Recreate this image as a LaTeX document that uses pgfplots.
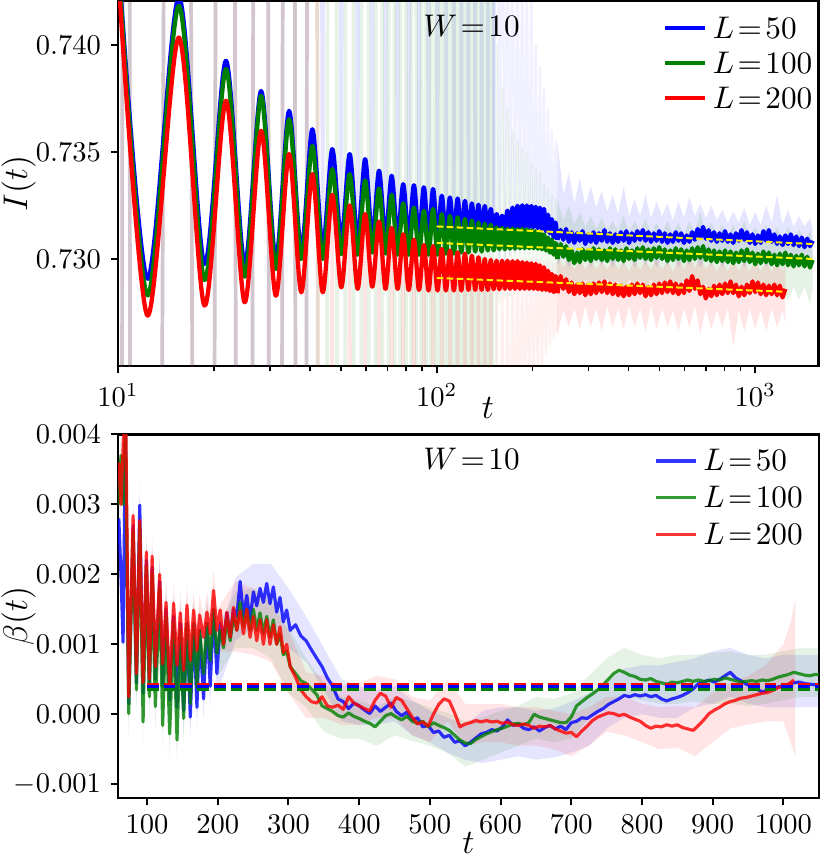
\documentclass[border=0pt]{standalone}
\usepackage{pgfplots}
\pgfplotsset{compat=1.18}
\usepackage{pgfplotstable}
\usepgfplotslibrary{fillbetween}
\definecolor{cB}{rgb}{0,0,1}
\definecolor{cG}{rgb}{0,0.502,0}
\definecolor{cR}{rgb}{1,0,0}

% ---------- top panel: early oscillating part ----------
\pgfplotstableread{
t b g r
10.0 0.7442 0.7440 0.7434
12.35 0.72907 0.72829 0.72735
15.5 0.74225 0.74184 0.74036
18.65 0.72977 0.72902 0.72782
21.8 0.73927 0.73888 0.73740
24.95 0.72977 0.72917 0.72797
28.1 0.73786 0.73763 0.73600
31.25 0.73000 0.72953 0.72828
34.4 0.73693 0.73654 0.73491
37.55 0.73039 0.73000 0.72844
40.7 0.73607 0.73529 0.73397
43.85 0.73054 0.73000 0.72844
47.0 0.73514 0.73420 0.73300
50.15 0.73086 0.73023 0.72867
53.3 0.73491 0.73397 0.73250
56.45 0.73090 0.73020 0.72860
59.6 0.73467 0.73367 0.73210
62.75 0.73095 0.73030 0.72870
65.9 0.73413 0.73330 0.73175
69.05 0.73100 0.73025 0.72860
72.2 0.73389 0.73300 0.73145
75.35 0.73100 0.73020 0.72860
78.5 0.73350 0.73260 0.73115
81.65 0.73100 0.73020 0.72855
84.8 0.73345 0.73240 0.73090
87.95 0.73100 0.73020 0.72855
91.1 0.73335 0.73226 0.73065
94.25 0.73105 0.73020 0.72852
97.4 0.73327 0.73234 0.73060
100.55 0.73105 0.73020 0.72852
103.7 0.73296 0.73210 0.73047
106.85 0.73110 0.73025 0.72852
110.0 0.73288 0.73202 0.73040
113.15 0.73110 0.73025 0.72852
116.3 0.73283 0.73195 0.73031
119.45 0.73115 0.73030 0.72852
122.6 0.73272 0.73187 0.73025
125.75 0.73115 0.73030 0.72855
128.9 0.73260 0.73180 0.73015
132.05 0.73120 0.73035 0.72855
135.2 0.73254 0.73171 0.73008
138.35 0.73120 0.73035 0.72855
141.5 0.73248 0.73165 0.73000
144.65 0.73125 0.73040 0.72855
147.8 0.73234 0.73160 0.72995
150.95 0.73130 0.73040 0.72858
154.1 0.73210 0.73148 0.72992
157.25 0.73135 0.73045 0.72858
160.4 0.73202 0.73145 0.72992
163.55 0.73140 0.73045 0.72860
166.7 0.73226 0.73142 0.72992
169.85 0.73145 0.73048 0.72860
173.0 0.73240 0.73142 0.72990
176.15 0.73148 0.73048 0.72860
179.3 0.73249 0.73140 0.72990
182.45 0.73150 0.73050 0.72860
185.6 0.73251 0.73140 0.72985
188.75 0.73150 0.73050 0.72860
191.9 0.73250 0.73138 0.72983
195.05 0.73150 0.73050 0.72860
198.2 0.73248 0.73135 0.72980
201.35 0.73148 0.73050 0.72860
204.5 0.73244 0.73130 0.72977
207.65 0.73145 0.73048 0.72858
210.8 0.73240 0.73125 0.72970
213.95 0.73140 0.73045 0.72855
217.1 0.73234 0.73115 0.72961
220.25 0.73130 0.73040 0.72855
223.4 0.73207 0.73100 0.72945
226.55 0.73120 0.73030 0.72850
229.7 0.73186 0.73090 0.72930
232.85 0.73100 0.73020 0.72845
236.0 0.73170 0.73075 0.72920
239.15 0.73090 0.73000 0.72840
}\topA

% ---------- top panel: noisy late part ----------
\pgfplotstableread{
t b g r
239.15 0.73090 0.73000 0.72840
244.8 0.73135 0.73070 0.72920
249.7 0.73090 0.73010 0.72860
254.7 0.73140 0.73060 0.72905
259.8 0.73080 0.72995 0.72845
265.0 0.73125 0.73040 0.72890
270.3 0.73075 0.72980 0.72835
275.7 0.73120 0.73030 0.72880
281.2 0.73085 0.72985 0.72840
286.8 0.73130 0.73045 0.72885
292.6 0.73070 0.72995 0.72830
298.4 0.73115 0.73040 0.72880
304.4 0.73080 0.72990 0.72835
310.5 0.73125 0.73050 0.72885
316.7 0.73075 0.73000 0.72840
323.0 0.73120 0.73045 0.72890
329.5 0.73085 0.72995 0.72845
336.1 0.73135 0.73040 0.72895
342.8 0.73080 0.72990 0.72840
349.6 0.73120 0.73050 0.72885
356.6 0.73075 0.73000 0.72835
363.8 0.73115 0.73045 0.72880
371.0 0.73080 0.72995 0.72830
378.5 0.73125 0.73040 0.72875
386.0 0.73085 0.72990 0.72825
393.8 0.73130 0.73050 0.72870
401.6 0.73075 0.73000 0.72830
409.7 0.73120 0.73040 0.72880
417.9 0.73085 0.72995 0.72835
426.2 0.73130 0.73050 0.72885
434.8 0.73090 0.73005 0.72840
443.4 0.73135 0.73055 0.72880
452.3 0.73085 0.73000 0.72825
461.4 0.73125 0.73045 0.72870
470.6 0.73080 0.72995 0.72830
480.0 0.73120 0.73050 0.72880
489.6 0.73085 0.73005 0.72835
499.4 0.73130 0.73055 0.72885
509.4 0.73080 0.73000 0.72840
519.6 0.73120 0.73045 0.72890
530.0 0.73075 0.72990 0.72845
540.6 0.73115 0.73040 0.72895
551.4 0.73080 0.72995 0.72840
562.4 0.73125 0.73050 0.72885
573.7 0.73085 0.73000 0.72835
585.2 0.73120 0.73045 0.72880
596.9 0.73075 0.72990 0.72840
608.8 0.73110 0.73040 0.72900
621.0 0.73080 0.72995 0.72850
633.4 0.73125 0.73050 0.72920
646.1 0.73090 0.73000 0.72860
659.0 0.73140 0.73055 0.72900
672.2 0.73100 0.73005 0.72835
685.6 0.73150 0.73060 0.72870
699.3 0.73095 0.72995 0.72815
713.3 0.73135 0.73045 0.72860
727.6 0.73085 0.72990 0.72825
742.2 0.73125 0.73040 0.72875
757.0 0.73080 0.72985 0.72830
772.2 0.73120 0.73035 0.72880
787.6 0.73085 0.72990 0.72835
803.3 0.73130 0.73040 0.72885
819.4 0.73080 0.72985 0.72840
835.8 0.73115 0.73035 0.72895
852.5 0.73075 0.72980 0.72840
869.6 0.73120 0.73030 0.72880
887.0 0.73085 0.72985 0.72825
904.7 0.73135 0.73040 0.72870
922.8 0.73090 0.72990 0.72830
941.3 0.73125 0.73045 0.72880
960.1 0.73075 0.72985 0.72840
979.3 0.73115 0.73030 0.72895
998.9 0.73070 0.72975 0.72845
1018.9 0.73110 0.73025 0.72890
1039.2 0.73075 0.72980 0.72835
1060.0 0.73130 0.73035 0.72880
1081.2 0.73085 0.72985 0.72830
1102.8 0.73135 0.73030 0.72875
1124.9 0.73080 0.72975 0.72835
1147.4 0.73115 0.73020 0.72880
1170.3 0.73070 0.72970 0.72830
1193.7 0.73105 0.73025 0.72875
1217.6 0.73065 0.72975 0.72820
1242.0 0.73110 0.73030 0.72860
1266.8 0.73070 0.72970 nan
1292.2 0.73115 0.73020 nan
1318.0 0.73065 0.72965 nan
1344.4 0.73105 0.73015 nan
1371.2 0.73060 0.72970 nan
1398.7 0.73100 0.73020 nan
1426.7 0.73055 0.72965 nan
1455.2 0.73095 0.73010 nan
1484.3 0.73060 0.72960 nan
1514.0 0.73085 0.72995 nan
}\topB

% ---------- top panel: wild early error band (stripes), t <= 151 ----------
\pgfplotstableread{
t sb sg sr
10.0 0.55 0.55 0.55
10.62 0.92 0.92 0.92
11.15 0.55 0.55 0.55
12.35 0.55 0.55 0.55
15.5 0.92 0.92 0.92
18.65 0.55 0.55 0.55
21.8 0.92 0.92 0.92
24.95 0.55 0.55 0.55
28.1 0.92 0.92 0.92
31.25 0.55 0.55 0.55
34.4 0.92 0.92 0.92
37.55 0.55 0.55 0.55
40.7 0.92 0.92 0.92
43.85 0.7305 0.55 0.55
47.0 0.92 0.92 0.7320
50.15 0.7308 0.55 0.55
53.3 0.92 0.92 0.7315
56.45 0.7309 0.55 0.55
59.6 0.92 0.92 0.7312
62.75 0.7309 0.55 0.55
65.9 0.92 0.92 0.7310
69.05 0.7310 0.55 0.55
72.2 0.92 0.92 0.7308
75.35 0.7310 0.55 0.55
78.5 0.92 0.92 0.7306
81.65 0.7310 0.55 0.55
84.8 0.92 0.92 0.7305
87.95 0.7310 0.55 0.55
91.1 0.92 0.92 0.7304
94.25 0.7311 0.55 0.55
97.4 0.92 0.92 0.7303
100.55 0.7311 0.55 0.55
103.7 0.92 0.92 0.7303
106.85 0.7311 0.55 0.55
110.0 0.92 0.92 0.7302
113.15 0.7311 0.55 0.55
116.3 0.92 0.92 0.7302
119.45 0.7312 0.55 0.55
122.6 0.92 0.92 0.7302
125.75 0.7312 0.55 0.55
128.9 0.92 0.92 0.7301
132.05 0.7312 0.55 0.55
135.2 0.92 0.92 0.7301
138.35 0.7312 0.55 0.55
141.5 0.92 0.92 0.7300
144.65 0.7313 0.55 0.55
147.8 0.92 0.92 0.7300
150.95 0.7313 0.55 0.55
}\topS

% ---------- top panel: fading error band stripes, 151 < t < 240 ----------
\pgfplotstableread{
t sb sg sr
150.95 0.7313 0.55 0.55
154.1 0.760 0.740 0.7300
157.25 0.7300 0.7280 0.710
160.4 0.752 0.738 0.7300
163.55 0.7300 0.7282 0.716
166.7 0.748 0.737 0.7300
169.85 0.7302 0.7283 0.719
173.0 0.746 0.736 0.7300
176.15 0.7303 0.7284 0.721
179.3 0.745 0.7355 0.7300
182.45 0.7304 0.7285 0.722
185.6 0.745 0.7352 0.7300
188.75 0.7304 0.7285 0.723
191.9 0.744 0.7350 0.7300
195.05 0.7305 0.7286 0.7235
198.2 0.742 0.7345 0.7300
201.35 0.7305 0.7286 0.7240
204.5 0.740 0.7342 0.7300
207.65 0.7305 0.7287 0.7245
210.8 0.739 0.7340 0.7300
213.95 0.7305 0.7287 0.7250
217.1 0.738 0.7335 0.7299
220.25 0.7304 0.7287 0.7255
223.4 0.737 0.7332 0.7299
226.55 0.7303 0.7287 0.7260
229.7 0.736 0.7330 0.7298
232.85 0.7302 0.7287 0.7263
236.0 0.7355 0.7328 0.7298
239.15 0.7300 0.7287 0.7265
}\topSb

% ---------- top panel: late error bands ----------
\pgfplotstableread{
t bu bl gu gl
239.15 0.7355 0.7297 0.7328 0.7287
249.7 0.7330 0.7302 0.7318 0.7291
259.8 0.7340 0.7296 0.7325 0.7286
270.3 0.7326 0.7301 0.7316 0.7290
281.2 0.7338 0.7297 0.7322 0.7285
292.6 0.7325 0.7302 0.7315 0.7291
304.4 0.7334 0.7296 0.7320 0.7286
316.7 0.7324 0.7301 0.7314 0.7290
329.5 0.7332 0.7297 0.7319 0.7285
342.8 0.7322 0.7302 0.7313 0.7291
356.6 0.7330 0.7296 0.7318 0.7286
371.0 0.7321 0.7301 0.7313 0.7290
386.0 0.7334 0.7297 0.7320 0.7285
401.6 0.7320 0.7302 0.7312 0.7291
417.9 0.7328 0.7296 0.7318 0.7286
434.8 0.7320 0.7301 0.7313 0.7290
452.3 0.7330 0.7297 0.7319 0.7285
470.6 0.7319 0.7302 0.7312 0.7291
489.6 0.7327 0.7296 0.7317 0.7286
509.4 0.7320 0.7301 0.7312 0.7290
530.0 0.7326 0.7297 0.7318 0.7285
551.4 0.7318 0.7302 0.7312 0.7290
573.7 0.7327 0.7296 0.7317 0.7285
596.9 0.7319 0.7301 0.7311 0.7290
621.0 0.7329 0.7297 0.7318 0.7284
646.1 0.7320 0.7302 0.7312 0.7290
672.2 0.7326 0.7296 0.7322 0.7285
699.3 0.7319 0.7301 0.7312 0.7289
727.6 0.7325 0.7297 0.7317 0.7284
757.0 0.7318 0.7302 0.7311 0.7289
787.6 0.7323 0.7296 0.7316 0.7284
819.4 0.7317 0.7301 0.7311 0.7289
852.5 0.7322 0.7297 0.7316 0.7283
887.0 0.7317 0.7302 0.7310 0.7289
922.8 0.7324 0.7296 0.7318 0.7284
960.1 0.7316 0.7301 0.7310 0.7289
998.9 0.7322 0.7297 0.7315 0.7283
1039.2 0.7316 0.7302 0.7310 0.7288
1081.2 0.7325 0.7296 0.7316 0.7282
1124.9 0.7317 0.7301 0.7310 0.7288
1170.3 0.7330 0.7297 0.7315 0.7281
1217.6 0.7316 0.7302 0.7309 0.7288
1266.8 0.7323 0.7296 0.7315 0.7280
1318.0 0.7315 0.7301 0.7309 0.7287
1371.2 0.7320 0.7297 0.7314 0.7281
1426.7 0.7315 0.7302 0.7308 0.7287
1484.3 0.7319 0.7296 0.7313 0.7279
1514.0 0.7314 0.7301 0.7308 0.7286
}\topBandBG

\pgfplotstableread{
t ru rl
239.15 0.7302 0.7265
249.7 0.7296 0.7276
259.8 0.7301 0.7268
270.3 0.7295 0.7277
281.2 0.7300 0.7267
292.6 0.7295 0.7278
304.4 0.7300 0.7268
316.7 0.7295 0.7277
329.5 0.7299 0.7266
342.8 0.7295 0.7278
356.6 0.7300 0.7268
371.0 0.7295 0.7277
386.0 0.7299 0.7267
401.6 0.7294 0.7278
417.9 0.7300 0.7268
434.8 0.7295 0.7277
452.3 0.7299 0.7266
470.6 0.7295 0.7278
489.6 0.7300 0.7267
509.4 0.7295 0.7277
530.0 0.7299 0.7268
551.4 0.7294 0.7276
573.7 0.7300 0.7266
596.9 0.7295 0.7277
621.0 0.7302 0.7268
646.1 0.7296 0.7278
672.2 0.7301 0.7265
699.3 0.7295 0.7277
727.6 0.7299 0.7267
757.0 0.7294 0.7276
787.6 0.7299 0.7268
819.4 0.7294 0.7277
852.5 0.7300 0.7259
887.0 0.7294 0.7276
922.8 0.7299 0.7266
960.1 0.7294 0.7277
998.9 0.7300 0.7267
1039.2 0.7294 0.7276
1081.2 0.7299 0.7266
1124.9 0.7294 0.7277
1170.3 0.7299 0.7268
1217.6 0.7294 0.7276
1242.0 0.7298 0.7270
}\topBandR

% ---------- bottom panel lines ----------
\pgfplotstableread{
t b g r
60.0 0.0028 0.0030 0.0036
63.0 0.0020 0.0037 0.0030
66.0 0.00103 0.0030 0.0038
69.4 0.0040 0.0042 0.0046
74.0 0.00015 0.00001 0.00025
80.2 0.0027 0.0026 0.00284
84.9 0.00045 0.00035 0.00058
89.6 0.00299 0.0027 0.00277
94.3 0.00030 -0.00011 0.00045
99.0 0.0022 0.0021 0.00232
103.2 0.00040 0.00025 0.00050
107.1 0.0021 0.0020 0.00226
111.7 0.00050 0.00011 0.00068
117.8 0.0019 0.0018 0.00200
122.0 0.00040 -0.00016 0.00072
126.8 0.0015 0.0014 0.00160
131.9 0.00020 -0.00028 0.00039
137.5 0.0014 0.0013 0.00159
142.3 0.00010 -0.00037 0.00070
147.0 0.0013 0.0012 0.00145
151.7 0.00005 -0.00006 0.00063
156.4 0.0013 0.0013 0.00156
161.1 -0.00004 0.00015 0.00077
165.8 0.0013 0.0013 0.00149
170.5 0.00010 0.00039 0.00091
174.2 0.0012 0.0012 0.00142
179.9 0.00022 0.00058 0.00110
184.7 0.0013 0.0013 0.00146
189.3 0.00040 0.00077 0.00115
194.0 0.0015 0.0015 0.00177
198.7 0.00058 0.00087 0.00120
203.4 0.00130 0.00120 0.00149
208.1 0.00105 0.00095 0.00100
212.8 0.00145 0.00135 0.00146
217.5 0.00110 0.00105 0.00110
222.2 0.00150 0.00140 0.00153
226.9 0.00140 0.00120 0.00120
231.6 0.00190 0.00160 0.00148
236.3 0.00140 0.00125 0.00115
241.0 0.00170 0.00150 0.00150
245.7 0.00135 0.00120 0.00110
250.4 0.00175 0.00150 0.00140
255.1 0.00155 0.00120 0.00105
259.8 0.00180 0.00145 0.00135
264.5 0.00160 0.00115 0.00100
269.2 0.00187 0.00140 0.00135
273.9 0.00158 0.00110 0.00100
278.6 0.00182 0.00135 0.00128
283.3 0.00146 0.00100 0.00100
288.0 0.00167 0.00115 0.00125
292.7 0.00132 0.00085 0.00088
297.4 0.00149 0.00090 0.00100
302.5 0.00120 0.00068 0.00068
310.0 0.00128 0.00058 0.00053
317.5 0.00112 0.00048 0.00035
325.0 0.00105 0.00044 0.00025
332.5 0.00092 0.00036 0.00018
340.0 0.00080 0.00028 0.00016
347.5 0.00068 0.00012 0.00025
355.0 0.00052 0.00008 0.00012
362.5 0.00040 0.00004 0.00010
370.0 0.00022 -0.00002 0.00013
377.5 0.00018 -0.00004 0.00007
385.0 0.00008 0.00002 0.00025
392.5 0.00016 -0.00003 0.00016
400.0 0.00012 -0.00006 0.00012
407.5 0.00006 -0.00010 0.00008
415.0 0.00001 -0.00013 0.00005
422.5 0.00012 -0.00018 0.00020
430.0 0.00004 -0.00010 0.00030
437.5 0.00010 -0.00002 0.00026
445.0 0.00016 0.00001 0.00010
452.5 0.00004 -0.00004 0.00024
460.0 -0.00002 -0.00008 0.00020
467.5 0.00003 -0.00003 0.00008
475.0 -0.00008 -0.00010 -0.00004
482.5 -0.00005 -0.00013 -0.00014
490.0 -0.00018 -0.00010 -0.00011
497.5 -0.00016 -0.00018 -0.00017
505.0 -0.00026 -0.00012 0.00000
512.5 -0.00024 -0.00016 0.00014
520.0 -0.00033 -0.00019 0.00022
527.5 -0.00030 -0.00023 0.00019
535.0 -0.00040 -0.00030 0.00002
542.5 -0.00038 -0.00037 -0.00018
550.0 -0.00045 -0.00041 -0.00014
557.5 -0.00040 -0.00042 -0.00012
565.0 -0.00034 -0.00036 -0.00009
572.5 -0.00028 -0.00032 -0.00011
580.0 -0.00026 -0.00028 -0.00009
587.5 -0.00022 -0.00025 -0.00011
595.0 -0.00024 -0.00022 -0.00010
602.5 -0.00018 -0.00020 -0.00013
610.0 -0.00008 -0.00017 -0.00011
617.5 -0.00016 -0.00014 -0.00015
625.0 -0.00014 -0.00013 -0.00016
632.5 -0.00020 -0.00015 -0.00014
640.0 -0.00022 -0.00012 -0.00016
647.5 -0.00018 0.00000 -0.00020
655.0 -0.00024 -0.00004 -0.00017
662.5 -0.00019 -0.00006 -0.00018
670.0 -0.00016 -0.00008 -0.00016
677.5 -0.00021 -0.00010 -0.00021
685.0 -0.00017 -0.00012 -0.00024
692.5 -0.00022 -0.00012 -0.00027
700.0 -0.00012 -0.00004 -0.00026
707.5 -0.00010 0.00012 -0.00032
715.0 -0.00005 0.00018 -0.00024
722.5 -0.00006 0.00024 -0.00017
730.0 -0.00001 0.00029 -0.00009
737.5 0.00004 0.00035 -0.00004
745.0 0.00008 0.00042 -0.00001
752.5 0.00014 0.00050 0.00002
760.0 0.00018 0.00058 0.00001
767.5 0.00022 0.00063 -0.00002
775.0 0.00027 0.00060 0.00000
782.5 0.00025 0.00056 -0.00004
790.0 0.00028 0.00054 -0.00007
797.5 0.00026 0.00050 -0.00010
805.0 0.00028 0.00049 -0.00016
812.5 0.00025 0.00051 -0.00020
820.0 0.00027 0.00047 -0.00017
827.5 0.00022 0.00045 -0.00018
835.0 0.00019 0.00043 -0.00015
842.5 0.00022 0.00046 -0.00017
850.0 0.00024 0.00045 -0.00015
857.5 0.00027 0.00047 -0.00019
865.0 0.00031 0.00049 -0.00021
872.5 0.00036 0.00047 -0.00023
880.0 0.00044 0.00049 -0.00016
887.5 0.00046 0.00047 -0.00008
895.0 0.00049 0.00048 0.00001
902.5 0.00046 0.00050 0.00006
910.0 0.00050 0.00049 0.00010
917.5 0.00055 0.00052 0.00015
925.0 0.00060 0.00050 0.00018
932.5 0.00052 0.00048 0.00020
940.0 0.00048 0.00046 0.00023
947.5 0.00043 0.00047 0.00024
955.0 0.00040 0.00048 0.00026
962.5 0.00036 0.00047 0.00028
970.0 0.00032 0.00049 0.00030
977.5 0.00034 0.00048 0.00031
985.0 0.00037 0.00050 0.00034
992.5 0.00039 0.00053 0.00038
1000.0 0.00041 0.00055 0.00040
1007.5 0.00043 0.00057 0.00043
1015.0 0.00045 0.00060 0.00049
1022.5 0.00046 0.00058 nan
1030.0 0.00044 0.00056 nan
1037.5 0.00043 0.00055 nan
1045.0 0.00042 0.00057 nan
1052.5 0.00040 0.00056 nan
}\botL

\pgfplotstableread{
t bu bl gu gl
60.0 0.0031 0.0025 0.00335 0.00265
63.0 0.0023 0.0017 0.00405 0.00335
66.0 0.00133 0.00073 0.00335 0.00265
69.4 0.0043 0.0037 0.00455 0.00385
74.0 0.00045 -0.00015 0.00036 -0.00034
80.2 0.0030 0.0024 0.00295 0.00225
84.9 0.00075 0.00015 0.0007 0.0000
89.6 0.00329 0.00269 0.00305 0.00235
94.3 0.0006 0.0000 0.00024 -0.00046
99.0 0.0025 0.0019 0.00245 0.00175
103.2 0.0007 0.0001 0.0006 -0.0001
107.1 0.0024 0.0018 0.00235 0.00165
111.7 0.0008 0.0002 0.00046 -0.00024
117.8 0.0022 0.0016 0.00215 0.00145
122.0 0.0007 0.0001 0.00019 -0.00051
126.8 0.0018 0.0012 0.00175 0.00105
131.9 0.0005 -0.0001 0.00007 -0.00063
137.5 0.0017 0.0011 0.00165 0.00095
142.3 0.0004 -0.0002 -0.00002 -0.00072
147.0 0.0016 0.0010 0.00155 0.00085
151.7 0.00035 -0.00025 0.00029 -0.00041
156.4 0.0016 0.0010 0.00165 0.00095
161.1 0.00026 -0.00034 0.0005 -0.0002
165.8 0.0016 0.0010 0.00165 0.00095
170.5 0.0004 -0.0002 0.00074 0.00004
174.2 0.0015 0.0009 0.00155 0.00085
179.9 0.00052 -0.00008 0.00093 0.00023
184.7 0.0016 0.0010 0.00165 0.00095
189.3 0.0007 0.0001 0.00112 0.00042
194.0 0.0018 0.0012 0.00185 0.00115
198.7 0.00088 0.00028 0.00122 0.00052
225 0.00195 0.00105 0.00175 0.00095
250 0.00215 0.00125 0.00180 0.00095
275 0.00215 0.00130 0.00170 0.00080
300 0.00180 0.00095 0.00125 0.00030
325 0.00140 0.00075 0.00080 0.00010
350 0.00095 0.00035 0.00045 -0.00025
375 0.00050 -0.00010 0.00025 -0.00035
400 0.00040 -0.00015 0.00020 -0.00035
425 0.00035 -0.00015 0.00010 -0.00045
450 0.00040 -0.00010 0.00025 -0.00030
475 0.00020 -0.00030 0.00018 -0.00038
500 0.00005 -0.00040 0.00010 -0.00045
525 -0.00005 -0.00055 0.00002 -0.00055
550 -0.00015 -0.00065 -0.00010 -0.00075
575 0.00005 -0.00070 -0.00005 -0.00065
600 0.00010 -0.00065 0.00005 -0.00055
625 0.00010 -0.00060 0.00012 -0.00045
650 0.00005 -0.00065 0.00025 -0.00035
675 0.00008 -0.00062 0.00022 -0.00040
700 0.00018 -0.00055 0.00030 -0.00035
725 0.00030 -0.00045 0.00055 -0.00005
750 0.00045 -0.00020 0.00080 0.00010
775 0.00065 -0.00005 0.00095 0.00025
800 0.00070 0.00000 0.00085 0.00020
825 0.00070 -0.00005 0.00080 0.00015
850 0.00075 -0.00005 0.00085 0.00015
875 0.00080 0.00010 0.00085 0.00018
900 0.00090 0.00015 0.00088 0.00015
925 0.00095 0.00025 0.00090 0.00015
950 0.00085 0.00015 0.00085 0.00012
975 0.00080 0.00010 0.00085 0.00015
1000 0.00085 0.00010 0.00090 0.00020
1025 0.00085 0.00010 0.00095 0.00025
1050 0.00085 0.00010 0.00095 0.00025
}\botBandBG

\pgfplotstableread{
t ru rl
60.0 0.0039 0.0033
63.0 0.0033 0.0027
66.0 0.0041 0.0035
69.4 0.0049 0.0043
74.0 0.00055 -0.00005
80.2 0.00314 0.00254
84.9 0.00088 0.00028
89.6 0.00307 0.00247
94.3 0.00075 0.00015
99.0 0.00262 0.00202
103.2 0.0008 0.0002
107.1 0.00256 0.00196
111.7 0.00098 0.00038
117.8 0.0023 0.0017
122.0 0.00102 0.00042
126.8 0.0019 0.0013
131.9 0.00069 0.00009
137.5 0.00189 0.00129
142.3 0.0010 0.0004
147.0 0.00175 0.00115
151.7 0.00093 0.00033
156.4 0.00186 0.00126
161.1 0.00107 0.00047
165.8 0.00179 0.00119
170.5 0.00121 0.00061
174.2 0.00172 0.00112
179.9 0.0014 0.0008
184.7 0.00176 0.00116
189.3 0.00145 0.00085
194.0 0.00207 0.00147
198.7 0.0015 0.0009
225 0.00190 0.00090
250 0.00180 0.00085
275 0.00160 0.00075
300 0.00120 0.00030
325 0.00060 -0.00005
350 0.00055 -0.00005
375 0.00040 -0.00015
400 0.00045 -0.00015
425 0.00055 -0.00005
450 0.00050 -0.00005
475 0.00025 -0.00030
500 0.00020 -0.00040
525 0.00050 -0.00010
550 0.00015 -0.00045
575 0.00015 -0.00040
600 0.00015 -0.00040
625 0.00010 -0.00045
650 0.00010 -0.00045
675 0.00005 -0.00050
700 0.00000 -0.00060
725 0.00010 -0.00045
750 0.00025 -0.00025
775 0.00025 -0.00030
800 0.00015 -0.00040
825 0.00010 -0.00050
850 0.00012 -0.00048
875 0.00010 -0.00060
900 0.00030 -0.00040
925 0.00045 -0.00020
950 0.00055 -0.00015
975 0.00070 -0.00010
1000 0.00100 -0.00010
1010 0.00130 -0.00040
1017 0.00165 -0.00060
}\botBandR

\pgfplotsset{
  every axis plot/.append style={line join=round},
  myaxis/.style={
    scale only axis, width=245.5pt,
    set layers,
    tick pos=left, tick align=outside,
    major tick length=2.5pt, minor tick length=1.6pt,
    every tick/.append style={black, line width=0.7pt},
    every minor tick/.append style={line width=0.5pt},
    axis line style={line width=0.8pt},
    tick label style={font=\fontsize{10}{12}\selectfont},
    label style={font=\fontsize{12}{14}\selectfont},
    yticklabel style={/pgf/number format/.cd, fixed, fixed zerofill, precision=3},
    scaled y ticks=false,
    ylabel style={at={(axis description cs:-0.142,0.5)}, anchor=center},
    legend cell align=left,
    legend image code/.code={\draw[##1] (0pt,0pt) -- (14pt,0pt);},
  },
}

\begin{document}
\begin{tikzpicture}
% ================= TOP PANEL =================
\begin{axis}[myaxis,
  at={(0pt,0pt)}, anchor=north west, height=128pt,
  xmode=log, xmin=10, xmax=1580,
  ymin=0.72498, ymax=0.74207,
  ytick={0.730,0.735,0.740},
  xlabel={$t$}, ylabel={$I(t)$},
  xlabel style={at={(axis description cs:0.528,0)}, anchor=center, yshift=-14.5pt},
  legend style={draw=none, fill=none, at={(axis description cs:0.777,0.962)}, anchor=north west,
    font=\fontsize{11}{13}\selectfont, inner sep=0pt, row sep=3.25pt,
    nodes={inner ysep=0pt, text height=8pt, text depth=1pt}},
]
% wild early band (stripes)
\addplot[cB, draw opacity=0.1, line width=1.3pt, forget plot] table[x=t,y=sb]{\topS};
\addplot[cG, draw opacity=0.1, line width=1.3pt, forget plot] table[x=t,y=sg]{\topS};
\addplot[cR, draw opacity=0.1, line width=1.3pt, forget plot] table[x=t,y=sr]{\topS};
\addplot[cB, draw opacity=0.06, line width=0.8pt, forget plot] table[x=t,y=sb]{\topSb};
\addplot[cG, draw opacity=0.06, line width=0.8pt, forget plot] table[x=t,y=sg]{\topSb};
\addplot[cR, draw opacity=0.06, line width=0.8pt, forget plot] table[x=t,y=sr]{\topSb};
% late bands
\addplot[draw=none, forget plot, name path=tbu] table[x=t,y=bu]{\topBandBG};
\addplot[draw=none, forget plot, name path=tbl] table[x=t,y=bl]{\topBandBG};
\addplot[draw=none, forget plot, name path=tgu] table[x=t,y=gu]{\topBandBG};
\addplot[draw=none, forget plot, name path=tgl] table[x=t,y=gl]{\topBandBG};
\addplot[draw=none, forget plot, name path=tru] table[x=t,y=ru]{\topBandR};
\addplot[draw=none, forget plot, name path=trl] table[x=t,y=rl]{\topBandR};
\addplot[fill=cB, fill opacity=0.1, draw=none, forget plot] fill between[of=tbu and tbl];
\addplot[fill=cG, fill opacity=0.1, draw=none, forget plot] fill between[of=tgu and tgl];
\addplot[fill=cR, fill opacity=0.1, draw=none, forget plot] fill between[of=tru and trl];
% main curves
\addplot[cB, line width=1.5pt, smooth] table[x=t,y=b]{\topA};
\addlegendentry{$L\!=\!50$}
\addplot[cB, line width=1.5pt, forget plot] table[x=t,y=b]{\topB};
\addplot[cG, line width=1.5pt, smooth] table[x=t,y=g]{\topA};
\addlegendentry{$L\!=\!100$}
\addplot[cG, line width=1.5pt, forget plot] table[x=t,y=g]{\topB};
\addplot[cR, line width=1.5pt, smooth] table[x=t,y=r]{\topA};
\addlegendentry{$L\!=\!200$}
\addplot[cR, line width=1.5pt, forget plot] table[x=t,y=r]{\topB};
% fits
\addplot[yellow, line width=0.7pt, dash pattern=on 2.3pt off 1.2pt, forget plot] coordinates {(100,0.73152) (1511,0.73070)};
\addplot[yellow, line width=0.7pt, dash pattern=on 2.3pt off 1.2pt, forget plot] coordinates {(100,0.73075) (1511,0.73000)};
\addplot[yellow, line width=0.7pt, dash pattern=on 2.3pt off 1.2pt, forget plot] coordinates {(100,0.72911) (1216,0.72847)};
\node[anchor=west, font=\fontsize{11}{13}\selectfont, inner sep=0pt] at (axis description cs:0.435,0.932) {$W\!=\!10$};
\end{axis}

% ================= BOTTOM PANEL =================
\begin{axis}[myaxis,
  at={(0pt,-151.9pt)}, anchor=north west, height=127.5pt,
  xmin=59, xmax=1050, ymin=-0.0012, ymax=0.004,
  xtick={100,200,300,400,500,600,700,800,900,1000},
  xticklabel style={/pgf/number format/1000 sep={}},
  scaled x ticks=false,
  ytick={-0.001,0,0.001,0.002,0.003,0.004},
  xlabel={$t$}, ylabel={$\beta(t)$},
  xlabel style={at={(axis description cs:0.5,0)}, anchor=center, yshift=-15.6pt},
  legend style={draw=none, fill=none, at={(axis description cs:0.765,0.964)}, anchor=north west,
    font=\fontsize{11}{13}\selectfont, inner sep=0pt, row sep=3.85pt,
    nodes={inner ysep=0pt, text height=8pt, text depth=1pt}},
]
\addplot[draw=none, forget plot, name path=bbu] table[x=t,y=bu]{\botBandBG};
\addplot[draw=none, forget plot, name path=bbl] table[x=t,y=bl]{\botBandBG};
\addplot[draw=none, forget plot, name path=bgu] table[x=t,y=gu]{\botBandBG};
\addplot[draw=none, forget plot, name path=bgl] table[x=t,y=gl]{\botBandBG};
\addplot[draw=none, forget plot, name path=bru] table[x=t,y=ru]{\botBandR};
\addplot[draw=none, forget plot, name path=brl] table[x=t,y=rl]{\botBandR};
\addplot[fill=cB, fill opacity=0.1, draw=none, forget plot] fill between[of=bbu and bbl];
\addplot[fill=cG, fill opacity=0.1, draw=none, forget plot] fill between[of=bgu and bgl];
\addplot[fill=cR, fill opacity=0.1, draw=none, forget plot] fill between[of=bru and brl];
\addplot[cB, draw opacity=0.8, line width=1.1pt] table[x=t,y=b]{\botL};
\addlegendentry{$L\!=\!50$}
\addplot[cG, draw opacity=0.8, line width=1.1pt] table[x=t,y=g]{\botL};
\addlegendentry{$L\!=\!100$}
\addplot[cR, draw opacity=0.8, line width=1.1pt] table[x=t,y=r]{\botL};
\addlegendentry{$L\!=\!200$}
\addplot[cR, line width=1.2pt, dash pattern=on 4.1pt off 1.75pt, forget plot] coordinates {(100,0.00042) (1050,0.00042)};
\addplot[cB, line width=1.2pt, dash pattern=on 4.1pt off 1.75pt, forget plot] coordinates {(100,0.00039) (1050,0.00039)};
\addplot[cG, line width=1.2pt, dash pattern=on 4.1pt off 1.75pt, forget plot] coordinates {(100,0.00035) (1050,0.00035)};
\node[anchor=west, font=\fontsize{11}{13}\selectfont, inner sep=0pt] at (axis description cs:0.435,0.934) {$W\!=\!10$};
\end{axis}
\pgfresetboundingbox
\path[use as bounding box] (-41.4pt,0.35pt) rectangle (246.3pt,-300pt);
\end{tikzpicture}
\end{document}
